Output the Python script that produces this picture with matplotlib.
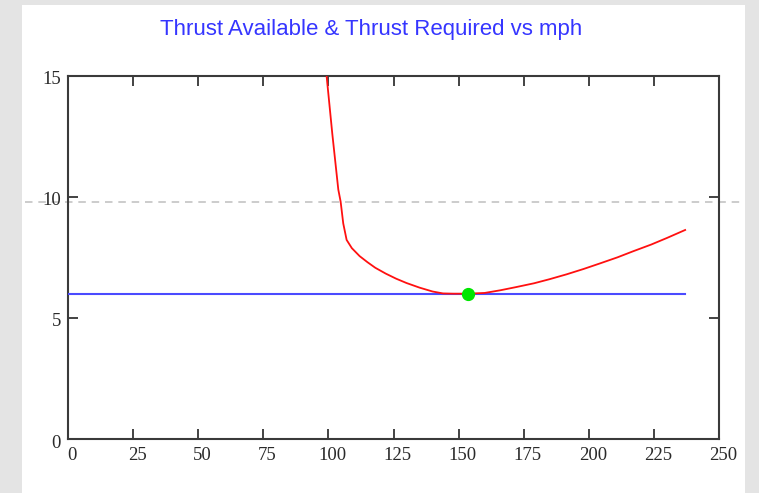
import numpy as np
import matplotlib
matplotlib.use("Agg")
import matplotlib.pyplot as plt
from matplotlib.patches import Rectangle
from matplotlib.transforms import ScaledTranslation

# airspeed [mph] and thrust required [lb] from the drag polar run
mph_req = [99.3, 101.5, 103.8, 104.7, 105.7, 107.0, 109.0, 112.0, 115.0,
           118.0, 122.0, 126.0, 130.0, 135.0, 140.0, 144.0, 148.0, 153.5,
           160.0, 166.0, 172.0, 179.0, 185.0, 191.5, 198.0, 204.3, 211.0,
           217.0, 224.0, 230.0, 237.0]
thrust_req = [15.0, 12.6, 10.3, 9.8, 8.9, 8.22, 7.88, 7.55, 7.3,
              7.07, 6.83, 6.62, 6.44, 6.25, 6.09, 6.01, 6.0, 6.0,
              6.03, 6.14, 6.27, 6.43, 6.6, 6.8, 7.02, 7.25, 7.5,
              7.75, 8.03, 8.3, 8.63]

# thrust available is flat over the speed range
mph_avail = [0.0, 237.0]
thrust_avail = [6.0, 6.0]

# tangent point (max speed where T_avail meets T_req)
v_match = 153.5
t_match = 6.0

# reference thrust level
t_ref = 9.8

x_ticks = [0, 25, 50, 75, 100, 125, 150, 175, 200, 225, 250]
y_ticks = [0, 5, 10, 15]

W, H = 759, 493
fig = plt.figure(figsize=(W / 100, H / 100), dpi=100, facecolor="#e4e4e4")
fig.patches.append(Rectangle((22 / W, 0), (745 - 22) / W, 1 - 5 / H,
                             transform=fig.transFigure, facecolor="white",
                             edgecolor="none", zorder=-5))

ax = fig.add_axes([68 / W, 1 - 439 / H, (719 - 68) / W, (439 - 75.7) / H])
ax.set_facecolor("white")

ax.plot(mph_avail, thrust_avail, color="#4b4bff", lw=1.5, zorder=3)
ax.plot(mph_req, thrust_req, color="#ff1010", lw=1.3, zorder=4)
ax.plot([v_match], [t_match], "o", color="#00e600", ms=8.5, zorder=5)
ax.axhline(t_ref, xmin=(25 - 68) / 651, xmax=(743 - 68) / 651, clip_on=False,
           color="#c4c4c4", lw=1.2, dashes=(4.5, 3.5), zorder=1)

ax.set_xlim(0, 250)
ax.set_ylim(0, 15)
ax.set_xticks(x_ticks)
ax.set_yticks(y_ticks)
ax.tick_params(direction="in", length=7, width=1.2, color="#222222",
               top=True, right=True, labelsize=13.5, labelcolor="#2a2a2a",
               pad=5)
ax.tick_params(axis="x", pad=6)
for lbl in ax.get_xticklabels() + ax.get_yticklabels():
    lbl.set_family("Liberation Serif")
for sp in ax.spines.values():
    sp.set_linewidth(1.5)
    sp.set_color("#3a3a3a")

# nudge tick labels slightly right/down
for lbl in ax.get_xticklabels():
    lbl.set_transform(lbl.get_transform() + ScaledTranslation(4 / 100, 0, fig.dpi_scale_trans))
for lbl in ax.get_yticklabels():
    lbl.set_transform(lbl.get_transform() + ScaledTranslation(0, -2 / 100, fig.dpi_scale_trans))

fig.text(371.5 / W, 1 - 30 / H, "Thrust Available & Thrust Required vs mph",
         ha="center", va="center", color="#3535ff", fontsize=16,
         family="Liberation Sans")

fig.savefig("out.png", dpi=100, facecolor=fig.get_facecolor())
